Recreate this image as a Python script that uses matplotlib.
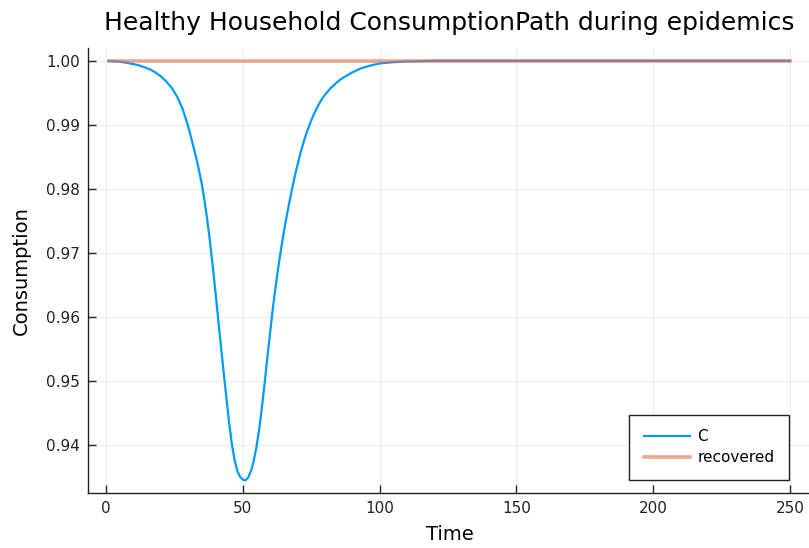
import matplotlib
matplotlib.use("Agg")
import matplotlib.pyplot as plt

# Data
time_c = [1, 4, 7, 10, 12, 14, 16, 18, 20, 22, 24, 26, 28, 30, 31, 32, 33, 34, 35, 36, 37, 38,
          39, 40, 41, 42, 43, 44, 45, 46, 47, 48, 49, 50, 51, 52, 53, 54, 55, 56, 57, 58, 59, 60,
          61, 62, 63, 64, 65, 66, 67, 68, 69, 70, 71, 72, 73, 74, 75, 76, 77, 78, 79, 80, 82, 84,
          86, 88, 90, 93, 96, 100, 105, 110, 120, 150, 200, 250]
consumption_c = [1.0, 0.9999, 0.99975, 0.9995, 0.9993, 0.9990, 0.9987, 0.9982, 0.9976, 0.9968,
                 0.9958, 0.9944, 0.9925, 0.9898, 0.9882, 0.9865, 0.9848, 0.9829, 0.9808, 0.9782,
                 0.9752, 0.9718, 0.9680, 0.9639, 0.9597, 0.9555, 0.9514, 0.9474, 0.9435, 0.9402,
                 0.9377, 0.9360, 0.9351, 0.93465, 0.93455, 0.9350, 0.9360, 0.9376, 0.9398, 0.9426,
                 0.9460, 0.9498, 0.9538, 0.9577, 0.9614, 0.9648, 0.9679, 0.9707, 0.9733, 0.9757,
                 0.9779, 0.9800, 0.9820, 0.9838, 0.9855, 0.9870, 0.9884, 0.9896, 0.9907, 0.9917,
                 0.9926, 0.9934, 0.9941, 0.9947, 0.9957, 0.9965, 0.9972, 0.9977, 0.9982, 0.9988,
                 0.9992, 0.9996, 0.9998, 0.9999, 1.0, 1.0, 1.0, 1.0]
time_rec = [1, 250]
recovered = [1.0, 1.0]

xticks = [0, 50, 100, 150, 200, 250]
yticks = [0.94, 0.95, 0.96, 0.97, 0.98, 0.99, 1.00]

W, H = 809, 548
fig = plt.figure(figsize=(W / 100, H / 100), dpi=100)
left, right, top, bottom = 88.3, 810.5, 48.3, 493
aw, ah = right - left, bottom - top
ax = fig.add_axes([left / W, 1 - bottom / H, aw / W, ah / H])

ax.plot(time_c, consumption_c, color="#009afa", lw=1.6, label="C")
ax.plot(time_rec, recovered, color="#e26f46", lw=2.6, alpha=0.6, label="recovered")

ax.set_xlim(-6.47, 257.47)
ax.set_ylim(0.93257, 1.00196)
ax.set_xticks(xticks)
ax.set_yticks(yticks)
ax.set_yticklabels([f"{v:.2f}" for v in yticks])
ax.tick_params(direction="in", length=6, width=1, colors="#222222", labelsize=11, pad=6)
ax.grid(True, color="black", alpha=0.07, lw=0.8)
for s in ["top", "right"]:
    ax.spines[s].set_visible(False)
for s in ["left", "bottom"]:
    ax.spines[s].set_color("#222222")
    ax.spines[s].set_linewidth(1.0)

ax.set_title("Healthy Household ConsumptionPath during epidemics", fontsize=18, pad=13)
ax.set_xlabel("Time", fontsize=14)
ax.set_ylabel("Consumption", fontsize=14)
ax.yaxis.set_label_coords((21 - left) / aw, 0.5)
ax.xaxis.set_label_coords(0.5, (bottom - 535) / ah)
ax.xaxis.label.set_va("center")
ax.yaxis.label.set_va("center")

leg = ax.legend(loc="lower right", bbox_to_anchor=((789 - left) / aw, (bottom - 480) / ah),
                fontsize=11, fancybox=False, framealpha=1, edgecolor="#222222",
                borderaxespad=0, borderpad=0.95, handlelength=3.0, handletextpad=0.5,
                labelspacing=0.4)
leg.get_frame().set_linewidth(1.0)

fig.savefig("out.png", dpi=100)
